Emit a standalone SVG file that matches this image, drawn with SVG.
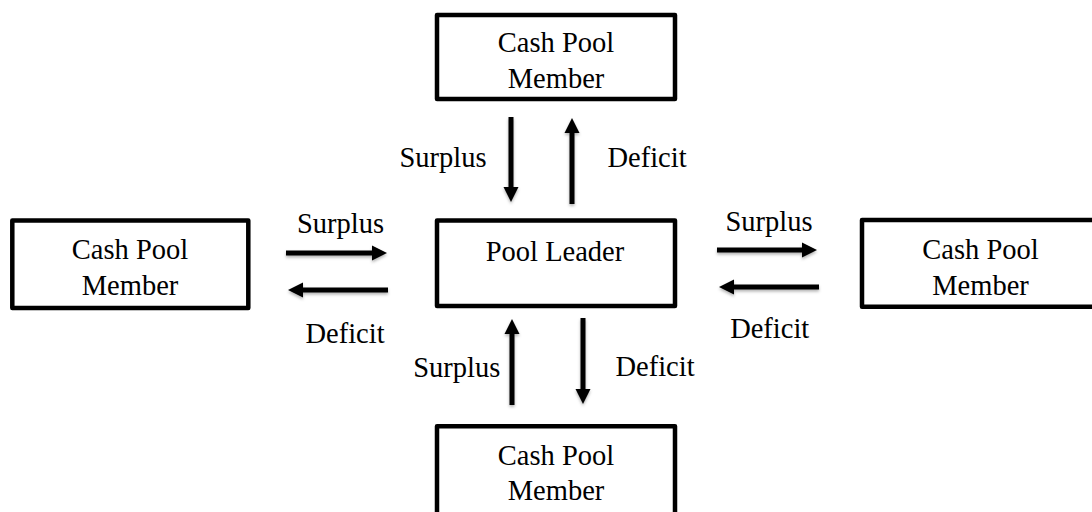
<svg xmlns="http://www.w3.org/2000/svg" width="1092" height="512" viewBox="0 0 1092 512">
<style>
.box{fill:#fff;stroke:#000;stroke-width:4.5;stroke-linejoin:round}
.t{font-family:"Liberation Serif","Times New Roman",serif;font-size:28.5px;fill:#000;text-anchor:middle}
.arr{stroke:#000;stroke-width:5;fill:none;marker-end:url(#head)}
</style>
<defs>
<marker id="head" markerUnits="userSpaceOnUse" markerWidth="16" markerHeight="16" refX="1" refY="7.5" orient="auto" overflow="visible">
<path d="M0,0 L15,7.5 L0,15 Z" fill="#000"/>
</marker>
<filter id="sh" filterUnits="userSpaceOnUse" x="0" y="0" width="1092" height="512">
<feDropShadow dx="0" dy="2" stdDeviation="1.8" flood-color="#000" flood-opacity="0.3"/>
</filter>
</defs>
<rect width="1092" height="512" fill="#fff"/>
<g id="member-top">
<rect class="box" x="437" y="15" width="238" height="84"/>
<text class="t" x="556" y="52">Cash Pool</text>
<text class="t" x="556" y="88">Member</text>
</g>
<g id="member-left">
<rect class="box" x="12.3" y="220.5" width="236" height="87.5"/>
<text class="t" x="130" y="259">Cash Pool</text>
<text class="t" x="130" y="295">Member</text>
</g>
<g id="pool-leader">
<rect class="box" x="437" y="220.5" width="238" height="85.5"/>
<text class="t" x="555" y="260.5">Pool Leader</text>
</g>
<g id="member-right">
<rect class="box" x="862" y="220" width="238" height="86.7"/>
<text class="t" x="980.5" y="259">Cash Pool</text>
<text class="t" x="980.5" y="295">Member</text>
</g>
<g id="member-bottom">
<rect class="box" x="437" y="426.3" width="238" height="100"/>
<text class="t" x="556" y="465">Cash Pool</text>
<text class="t" x="556" y="500">Member</text>
</g>
<g id="connectors">
<g filter="url(#sh)">
<path class="arr" d="M511,117 V188"/>
<path class="arr" d="M572,204 V132"/>
<path class="arr" d="M286,253 H373"/>
<path class="arr" d="M388,290 H302"/>
<path class="arr" d="M717,250 H803"/>
<path class="arr" d="M819,287 H733"/>
<path class="arr" d="M512,405 V333"/>
<path class="arr" d="M583,318 V390"/>
</g>
<text class="t" x="443" y="167">Surplus</text>
<text class="t" x="647" y="167">Deficit</text>
<text class="t" x="340.5" y="233">Surplus</text>
<text class="t" x="345" y="343">Deficit</text>
<text class="t" x="769" y="230.5">Surplus</text>
<text class="t" x="769.7" y="338.3">Deficit</text>
<text class="t" x="456.7" y="376.5">Surplus</text>
<text class="t" x="655" y="376">Deficit</text>
</g>
</svg>
